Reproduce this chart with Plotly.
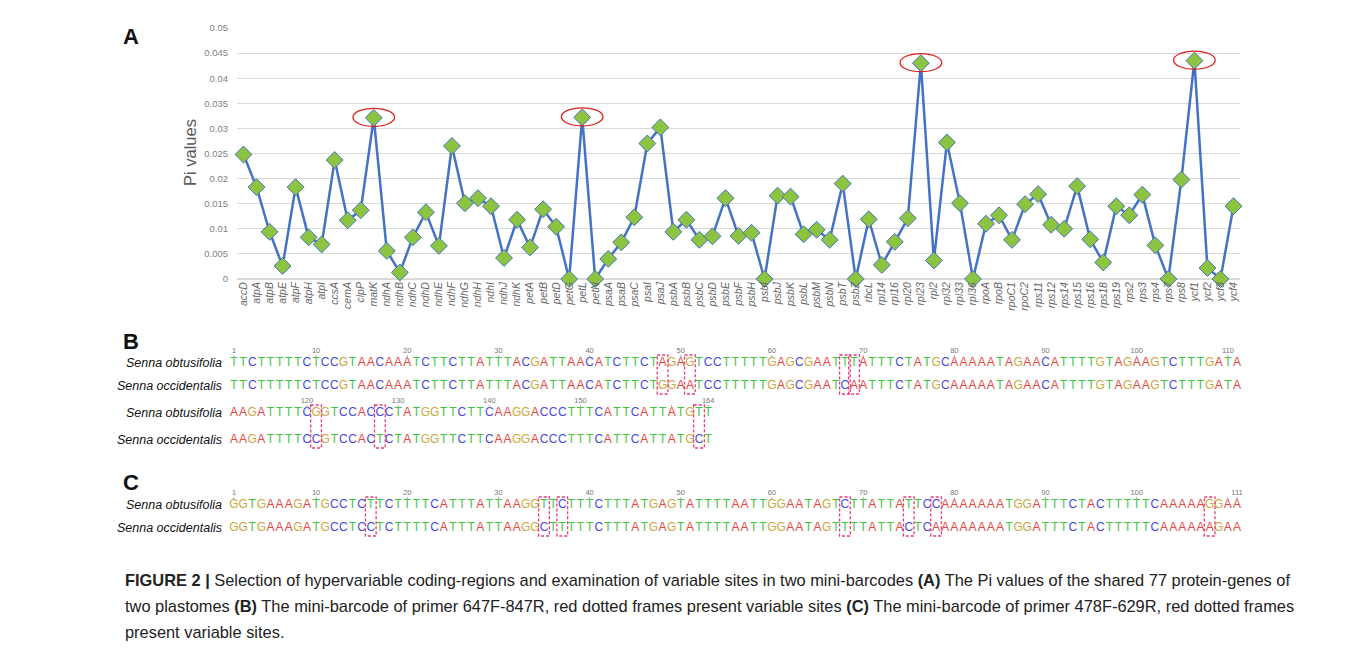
import plotly.graph_objects as go

# ---------------- data ----------------
genes = ["accD", "atpA", "atpB", "atpE", "atpF", "atpH", "atpI", "ccsA", "cemA", "clpP",
         "matK", "ndhA", "ndhB", "ndhC", "ndhD", "ndhE", "ndhF", "ndhG", "ndhH", "ndhI",
         "ndhJ", "ndhK", "petA", "petB", "petD", "petG", "petL", "petN", "psaA", "psaB",
         "psaC", "psaI", "psaJ", "psbA", "psbB", "psbC", "psbD", "psbE", "psbF", "psbH",
         "psbI", "psbJ", "psbK", "psbL", "psbM", "psbN", "psbT", "psbZ", "rbcL", "rpl14",
         "rpl16", "rpl20", "rpl23", "rpl2", "rpl32", "rpl33", "rpl36", "rpoA", "rpoB", "rpoC1",
         "rpoC2", "rps11", "rps12", "rps14", "rps15", "rps16", "rps18", "rps19", "rps2", "rps3",
         "rps4", "rps7", "rps8", "ycf1", "ycf2", "ycf3", "ycf4"]
pi_values = [0.0248, 0.0183, 0.0094, 0.0026, 0.0183, 0.0083, 0.0069, 0.0237, 0.0117, 0.0137,
             0.0321, 0.0056, 0.0013, 0.0083, 0.0133, 0.0066, 0.0265, 0.0151, 0.0161, 0.0145,
             0.0042, 0.0118, 0.0063, 0.0139, 0.0104, 0.0, 0.0322, 0.0, 0.0040, 0.0073,
             0.0123, 0.0270, 0.0302, 0.0094, 0.0118, 0.0078, 0.0085, 0.0161, 0.0086, 0.0092,
             0.0, 0.0166, 0.0164, 0.0089, 0.0098, 0.0078, 0.0190, 0.0, 0.0119, 0.0028,
             0.0074, 0.0121, 0.0430, 0.0037, 0.0272, 0.0151, 0.0, 0.0110, 0.0127, 0.0078,
             0.0149, 0.0169, 0.0108, 0.0100, 0.0185, 0.0079, 0.0033, 0.0145, 0.0127, 0.0168,
             0.0067, 0.0, 0.0198, 0.0435, 0.0022, 0.0, 0.0145]
highlight_genes = ["matK", "petL", "rpl23", "ycf1"]
y_ticks = [0, 0.005, 0.01, 0.015, 0.02, 0.025, 0.03, 0.035, 0.04, 0.045, 0.05]

species = ["Senna obtusifolia", "Senna occidentalis"]

# panel B (primer 647F-847R), wrapped after 111 bases
seqB_obt_line1 = ("TTCTTTTTCT" "CCGTAACAAA" "TCTTCTTATT" "TACGATTAAC" "ATCTTCTAGA" "GTCCTTTTTG"
                  "AGCGAATTTA" "TTTCTATGCA" "AAAATAGAAC" "ATTTTGTAGA" "AGTCTTTGATA")
seqB_occ_line1 = ("TTCTTTTTCT" "CCGTAACAAA" "TCTTCTTATT" "TACGATTAAC" "ATCTTCTGGA" "ATCCTTTTTG"
                  "AGCGAATCAA" "TTTCTATGCA" "AAAATAGAAC" "ATTTTGTAGA" "AGTCTTTGATA")
seqB_obt_line2 = "AAGATTTTCG" "GTCCACCCTA" "TGGTTCTTCA" "AGGACCCTTT" "CATTCATTAT" "GTT"
seqB_occ_line2 = "AAGATTTTCC" "GTCCACTCTA" "TGGTTCTTCA" "AGGACCCTTT" "CATTCATTAT" "GCT"

# panel C (primer 478F-629R)
seqC_obt = ("GGTGAAAGAT" "GCCTCTTCTT" "TTCATTTATT" "AAGGTTCTTT" "CTTTATGAGT" "ATTTTAATTG"
            "GAATAGTCTT" "ATTATTCCAA" "AAAAATGGAT" "TTCTACTTTT" "TCAAAAAGGAA")
seqC_occ = ("GGTGAAAGAT" "GCCTCCTCTT" "TTCATTTATT" "AAGGCTTTTT" "CTTTATGAGT" "ATTTTAATTG"
            "GAATAGTTTT" "ATTACTCAAA" "AAAAATGGAT" "TTCTACTTTT" "TCAAAAAAGAA")

base_colors = {"A": "#e2483f", "T": "#3fc43f", "C": "#4848e0", "G": "#c9a83c"}

caption_lines = [
    "<b>FIGURE 2 |</b> Selection of hypervariable coding-regions and examination of variable sites in two mini-barcodes <b>(A)</b> The Pi values of the shared 77 protein-genes of",
    "two plastomes <b>(B)</b> The mini-barcode of primer 647F-847R, red dotted frames present variable sites <b>(C)</b> The mini-barcode of primer 478F-629R, red dotted frames",
    "present variable sites.",
]

# ---------------- layout constants (page pixels) ----------------
W, H = 1357, 649
OFF = 8                      # page body margin
FW, FH = W - 2 * OFF, H - 2 * OFF
def px(x):
    return (x - OFF) / FW
def py(y):
    return 1 - (y - OFF) / FH

FONT = "Liberation Sans, Arial, sans-serif"
fig = go.Figure()

# ---------------- Panel A ----------------
fig.add_trace(go.Scatter(
    x=genes, y=pi_values, mode="lines+markers",
    line=dict(color="#4472C4", width=2.5),
    marker=dict(symbol="diamond", size=13, color="#8CC43F",
                line=dict(color="#4472C4", width=1)),
    cliponaxis=False, showlegend=False, xaxis="x", yaxis="y",
))

shapes = []
for g in highlight_genes:
    i = genes.index(g)
    v = pi_values[i]
    shapes.append(dict(type="circle", xref="x", yref="y",
                       x0=i - 1.6, x1=i + 1.6, y0=v - 0.0017, y1=v + 0.0019,
                       line=dict(color="#e0201c", width=1.3)))

# ---------------- Sequence panels ----------------
STEP = (1237 - 234) / 110.0
X0 = 234

def seq_rows(seq_a, seq_b, start_pos, y_a, y_b, y_num, total_len, box_top, box_bot):
    n = min(len(seq_a), len(seq_b))
    xs = [X0 + k * STEP for k in range(n)]
    for seq, yy, name in ((seq_a, y_a, species[0]), (seq_b, y_b, species[1])):
        fig.add_trace(go.Scatter(
            x=xs, y=[yy] * n, mode="text", text=list(seq[:n]),
            textfont=dict(family=FONT, size=12, color=[base_colors[c] for c in seq[:n]]),
            textposition="middle center", hoverinfo="skip", showlegend=False,
            xaxis="x2", yaxis="y2"))
        fig.add_annotation(x=px(224), y=py(yy), xref="paper", yref="paper", text=name,
                           showarrow=False, xanchor="right", yanchor="middle",
                           font=dict(family=FONT, size=12.5, color="#111", style="italic"))
    # position numbers
    num_x, num_t = [], []
    for k in range(n):
        pos = start_pos + k
        is_tick = pos == 1 or pos % 10 == 0 or pos == total_len
        if not is_tick:
            continue
        shapes.append(dict(type="line", xref="x2", yref="y2",
                           x0=xs[k], x1=xs[k], y0=y_num + 4, y1=y_num + 7,
                           line=dict(color="#999", width=0.8)))
        if pos % 10 == 0 and total_len - pos < 5 and pos != total_len:
            continue
        num_x.append(xs[k])
        num_t.append(str(pos))
    fig.add_trace(go.Scatter(
        x=num_x, y=[y_num] * len(num_x), mode="text", text=num_t,
        textfont=dict(family=FONT, size=7.5, color="#777"),
        hoverinfo="skip", showlegend=False, xaxis="x2", yaxis="y2"))
    # variable-site frames
    for k in range(n):
        if seq_a[k] != seq_b[k]:
            shapes.append(dict(type="rect", xref="x2", yref="y2",
                               x0=xs[k] - STEP / 2 - 0.8, x1=xs[k] + STEP / 2 + 0.8,
                               y0=box_top, y1=box_bot,
                               line=dict(color="#ea3a78", width=1.3, dash="3px,2px")))

totB = len(seqB_obt_line1) + len(seqB_obt_line2)
seq_rows(seqB_obt_line1, seqB_occ_line1, 1, 363, 386, 351, totB, 355, 394)
seq_rows(seqB_obt_line2, seqB_occ_line2, len(seqB_obt_line1) + 1, 413, 440, 401, totB, 405, 448)
seq_rows(seqC_obt, seqC_occ, 1, 505, 528, 493, len(seqC_obt), 497, 536)

# ---------------- Text annotations ----------------
for lab, (lx, ly) in zip(["A", "B", "C"], [(131, 37), (131, 341), (131, 482)]):
    fig.add_annotation(x=px(lx), y=py(ly), xref="paper", yref="paper", text=f"<b>{lab}</b>",
                       showarrow=False, xanchor="center", yanchor="middle",
                       font=dict(family=FONT, size=22, color="#111"))

fig.add_annotation(x=px(190), y=py(153), xref="paper", yref="paper", text="Pi values",
                   textangle=-90, showarrow=False, xanchor="center", yanchor="middle",
                   font=dict(family=FONT, size=16.5, color="#595959"))

for li, line in enumerate(caption_lines):
    fig.add_annotation(x=px(123), y=py(580 + li * 26), xref="paper", yref="paper", text=line,
                       showarrow=False, xanchor="left", yanchor="middle",
                       font=dict(family=FONT, size=16.4, color="#222"))

fig.update_layout(
    width=FW, height=FH, margin=dict(l=0, r=0, t=0, b=0, autoexpand=False),
    paper_bgcolor="white", plot_bgcolor="rgba(0,0,0,0)",
    shapes=shapes,
    xaxis=dict(domain=[px(237), px(1240)], type="category", tickangle=-90,
               tickfont=dict(family=FONT, size=10.5, color="#666666", style="italic"),
               showgrid=False, showline=False, ticks="", fixedrange=True, automargin=False,
               range=[-0.5, len(genes) - 0.5]),
    yaxis=dict(domain=[py(279), py(28)], range=[0, 0.05], tickvals=y_ticks,
               ticktext=[f"{v:g}" for v in y_ticks],
               tickfont=dict(family=FONT, size=9.5, color="#7f7f7f"),
               gridcolor="#d9d9d9", zeroline=True, zerolinecolor="#d9d9d9",
               showline=False, ticks="", ticklabelstandoff=8, fixedrange=True, automargin=False),
    xaxis2=dict(domain=[0, 1], range=[OFF, OFF + FW], visible=False, fixedrange=True,
                anchor="y2", automargin=False),
    yaxis2=dict(domain=[0, 1], range=[OFF + FH, OFF], visible=False, fixedrange=True,
                anchor="x2", automargin=False),
)

fig.write_html("out.html")
